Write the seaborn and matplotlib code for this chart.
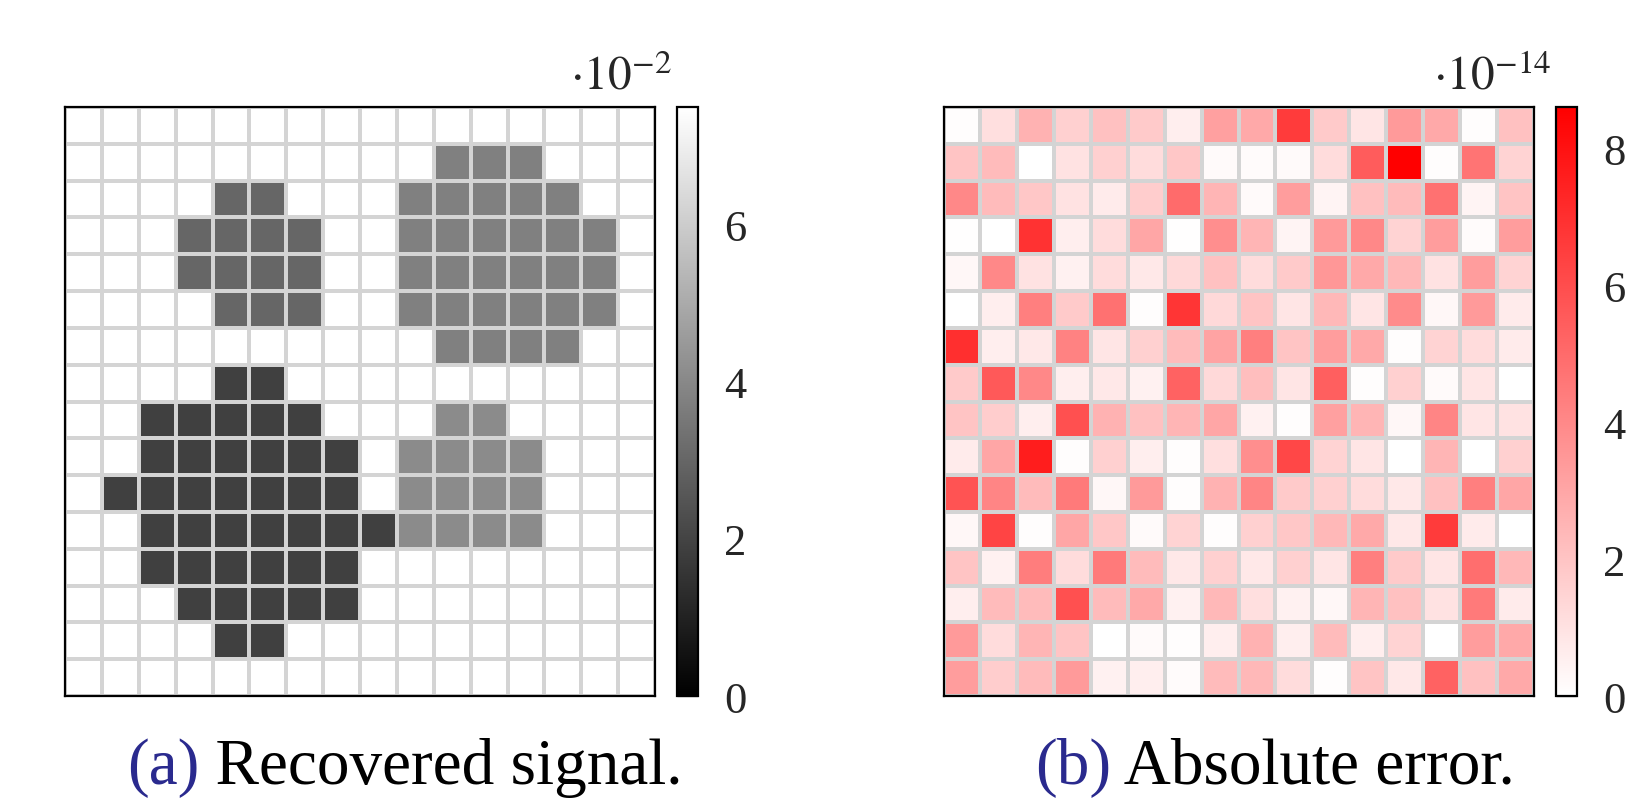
import numpy as np
import matplotlib
matplotlib.use("Agg")
import matplotlib.pyplot as plt
from matplotlib.colors import LinearSegmentedColormap
import seaborn as sns

# ---------------------------------------------------------------------------
# data (16 x 16 grids)
# ---------------------------------------------------------------------------
# recovered signal, in units of 1e-2 : background and four blobs
background = 7.5
blob_levels = [1.9, 3.0, 3.75, 4.1]    # bottom-left, top-left, top-right, bottom-right
# (row, first col, last col) runs for every blob
blob_a = [(7, 4, 5), (8, 2, 6), (9, 2, 7), (10, 1, 7), (11, 2, 8), (12, 2, 7), (13, 3, 7), (14, 4, 5)]
blob_b = [(2, 4, 5), (3, 3, 6), (4, 3, 6), (5, 4, 6)]
blob_c = [(1, 10, 12), (2, 9, 13), (3, 9, 14), (4, 9, 14), (5, 9, 14), (6, 10, 13)]
blob_d = [(8, 10, 11), (9, 9, 12), (10, 9, 12), (11, 9, 12)]

# absolute error, in units of 1e-14, row by row from the top
err_e14 = [
    [0.1, 1.1, 2.6, 1.6, 2.1, 1.8, 0.6, 3.2, 2.9, 6.6, 1.8, 0.9, 3.4, 2.9, 0.1, 2.1],
    [2.0, 2.3, 0.0, 1.0, 1.6, 1.2, 1.9, 0.2, 0.15, 0.2, 1.2, 5.5, 8.6, 0.1, 4.7, 1.5],
    [4.0, 2.3, 1.9, 1.0, 0.7, 1.7, 5.0, 2.5, 0.2, 3.3, 0.4, 2.1, 2.3, 4.8, 0.4, 2.0],
    [0.05, 0.0, 6.9, 0.6, 1.2, 3.0, 0.05, 3.8, 2.5, 0.4, 3.4, 4.0, 1.5, 3.3, 0.15, 3.3],
    [0.3, 4.0, 1.0, 0.5, 1.2, 0.8, 1.3, 2.1, 1.2, 1.8, 3.5, 2.9, 2.4, 1.0, 3.3, 1.5],
    [0.0, 0.6, 4.3, 1.8, 4.8, 0.1, 6.8, 1.3, 2.0, 0.9, 2.4, 0.9, 3.9, 0.3, 3.4, 0.7],
    [7.0, 0.6, 0.8, 4.2, 0.9, 1.6, 2.3, 3.1, 4.3, 2.0, 3.3, 2.9, 0.1, 1.5, 1.2, 0.7],
    [1.8, 5.6, 4.0, 0.6, 0.8, 0.5, 5.3, 1.3, 2.2, 0.9, 5.4, 0.1, 1.6, 0.2, 0.9, 0.0],
    [2.0, 1.7, 0.6, 5.9, 2.6, 2.1, 2.5, 3.0, 0.5, 0.1, 3.2, 2.5, 0.3, 4.1, 0.9, 1.0],
    [0.7, 3.0, 7.6, 0.1, 1.6, 0.6, 0.1, 1.1, 3.8, 6.2, 1.5, 0.9, 0.0, 2.5, 0.0, 1.6],
    [5.8, 4.1, 2.3, 4.5, 0.3, 3.4, 0.1, 2.6, 4.1, 1.8, 1.6, 1.2, 0.8, 2.1, 4.3, 3.0],
    [0.3, 6.3, 0.1, 3.0, 1.9, 0.2, 1.5, 0.1, 1.6, 1.9, 2.4, 2.9, 0.8, 6.6, 0.7, 0.0],
    [2.0, 0.5, 4.4, 1.2, 4.5, 2.3, 0.8, 1.6, 0.8, 1.6, 0.9, 4.3, 1.8, 0.9, 4.9, 2.4],
    [0.6, 2.3, 2.3, 5.9, 2.3, 2.9, 0.5, 2.4, 1.1, 0.5, 0.3, 2.5, 2.1, 1.0, 4.5, 0.7],
    [3.4, 1.2, 2.5, 2.0, 0.0, 0.2, 0.1, 0.6, 2.6, 0.6, 2.3, 0.6, 1.5, 0.0, 3.3, 2.9],
    [3.3, 1.7, 2.3, 3.4, 0.5, 0.6, 0.15, 2.3, 2.4, 1.2, 0.1, 2.0, 0.8, 5.3, 2.1, 2.9],
]

signal_ticks = [0, 2, 4, 6]
error_ticks = [0, 2, 4, 6, 8]
signal_max = 7.5
error_max = 8.6


def buildSignal():
    grid = np.full((16, 16), background)
    for level, runs in zip(blob_levels, [blob_a, blob_b, blob_c, blob_d]):
        for row, c0, c1 in runs:
            grid[row, c0:c1 + 1] = level
    return grid


def drawPanel(fig, rect, cbar_rect, data, cmap, vmax, ticks, expo, label, caption):
    ax = fig.add_axes(rect)
    cax = fig.add_axes(cbar_rect)
    sns.heatmap(data, ax=ax, cbar_ax=cax, cmap=cmap, vmin=0, vmax=vmax,
                linewidths=1.5, linecolor="#d4d4d4", square=False,
                xticklabels=False, yticklabels=False,
                cbar_kws={"ticks": ticks})
    for sp in ax.spines.values():
        sp.set_visible(True)
        sp.set_color("black")
        sp.set_linewidth(1.6)
    ax.tick_params(left=False, bottom=False)

    cb = ax.collections[0].colorbar
    cb.outline.set_visible(True)
    cb.outline.set_edgecolor("black")
    cb.outline.set_linewidth(1.6)
    cb.ax.tick_params(direction="in", length=15, width=1.0, color="#808080",
                      labelsize=32, pad=19)
    cb.ax.set_yticklabels([str(t) for t in ticks])

    # exponent above the colour bar
    fig.text(cbar_rect[0] - 0.003, 0.889, expo, ha="right", va="baseline", fontsize=34)

    # caption: blue label, black text
    t = fig.text(caption[0], 0.024, label, color="#2a2a8e", ha="left",
                 va="baseline", fontsize=47)
    ax.annotate(" " + caption[1], xy=(1, 0), xycoords=t, va="bottom",
                ha="left", fontsize=47, color="black",
                annotation_clip=False)
    return ax


def main():
    sns.set_theme(style="white")
    plt.rcParams["font.family"] = ["Liberation Serif", "DejaVu Serif"]
    plt.rcParams["mathtext.fontset"] = "stix"

    fig = plt.figure(figsize=(16.39, 8.03), dpi=100)
    fig.patch.set_facecolor("white")

    gray_map = plt.get_cmap("gray")
    red_map = LinearSegmentedColormap.from_list("white_red", ["#ffffff", "#ff0000"])

    drawPanel(fig, [0.0397, 0.132, 0.360, 0.7335], [0.4131, 0.132, 0.0128, 0.7335],
              buildSignal(), gray_map, signal_max, signal_ticks, r"$\cdot 10^{-2}$",
              "(a)", (0.0775, "Recovered signal."))
    drawPanel(fig, [0.5757, 0.132, 0.360, 0.7335], [0.9494, 0.132, 0.0128, 0.7335],
              np.array(err_e14), red_map, error_max, error_ticks, r"$\cdot 10^{-14}$",
              "(b)", (0.6315, "Absolute error."))

    fig.savefig("out.png", dpi=100, facecolor="white")


if __name__ == "__main__":
    main()
